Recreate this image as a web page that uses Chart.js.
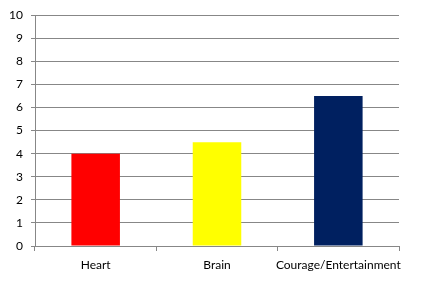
<!DOCTYPE html>
<html>
<head>
<meta charset="utf-8">
<script src="https://cdn.jsdelivr.net/npm/chart.js@4"></script>
<style>
html,body{margin:0;padding:0;background:#fff;}
#wrap{width:446px;height:291px;}
</style>
</head>
<body>
<div id="wrap"><canvas id="c" width="446" height="291"></canvas></div>
<script>
const categories = ["Heart", "Brain", "Courage/Entertainment"];
const values = [4, 4.5, 6.5];
const barColors = ["#FF0000", "#FFFF00", "#002060"];
const yTicks = [0,1,2,3,4,5,6,7,8,9,10];

const gridColor = "#878787";
const fontSpec = {family: "Lato, 'Open Sans', sans-serif", size: 12};

new Chart(document.getElementById("c"), {
  type: "bar",
  data: {
    labels: categories,
    datasets: [{
      data: values,
      backgroundColor: barColors,
      borderWidth: 0,
      categoryPercentage: 1,
      barPercentage: 0.4
    }]
  },
  options: {
    responsive: false,
    animation: false,
    devicePixelRatio: 1,
    layout: {padding: {left: 0, right: 47, top: 13, bottom: 0}},
    plugins: {legend: {display: false}, tooltip: {enabled: false}},
    scales: {
      x: {
        offset: true,
        grid: {offset: true, drawOnChartArea: false, color: gridColor, tickLength: 5, lineWidth: 1},
        border: {color: gridColor, width: 1},
        ticks: {color: "#000", font: fontSpec, padding: 7, maxRotation: 0, autoSkip: false},
        afterFit: s => { s.height = 45; }
      },
      y: {
        min: 0, max: 10,
        afterBuildTicks: s => { s.ticks = yTicks.map(v => ({value: v})); },
        grid: {color: gridColor, tickLength: 4, lineWidth: 1},
        border: {color: gridColor, width: 1},
        ticks: {color: "#000", font: fontSpec, padding: 8},
        afterFit: s => { s.width = 35; }
      }
    }
  }
});
</script>
</body>
</html>
